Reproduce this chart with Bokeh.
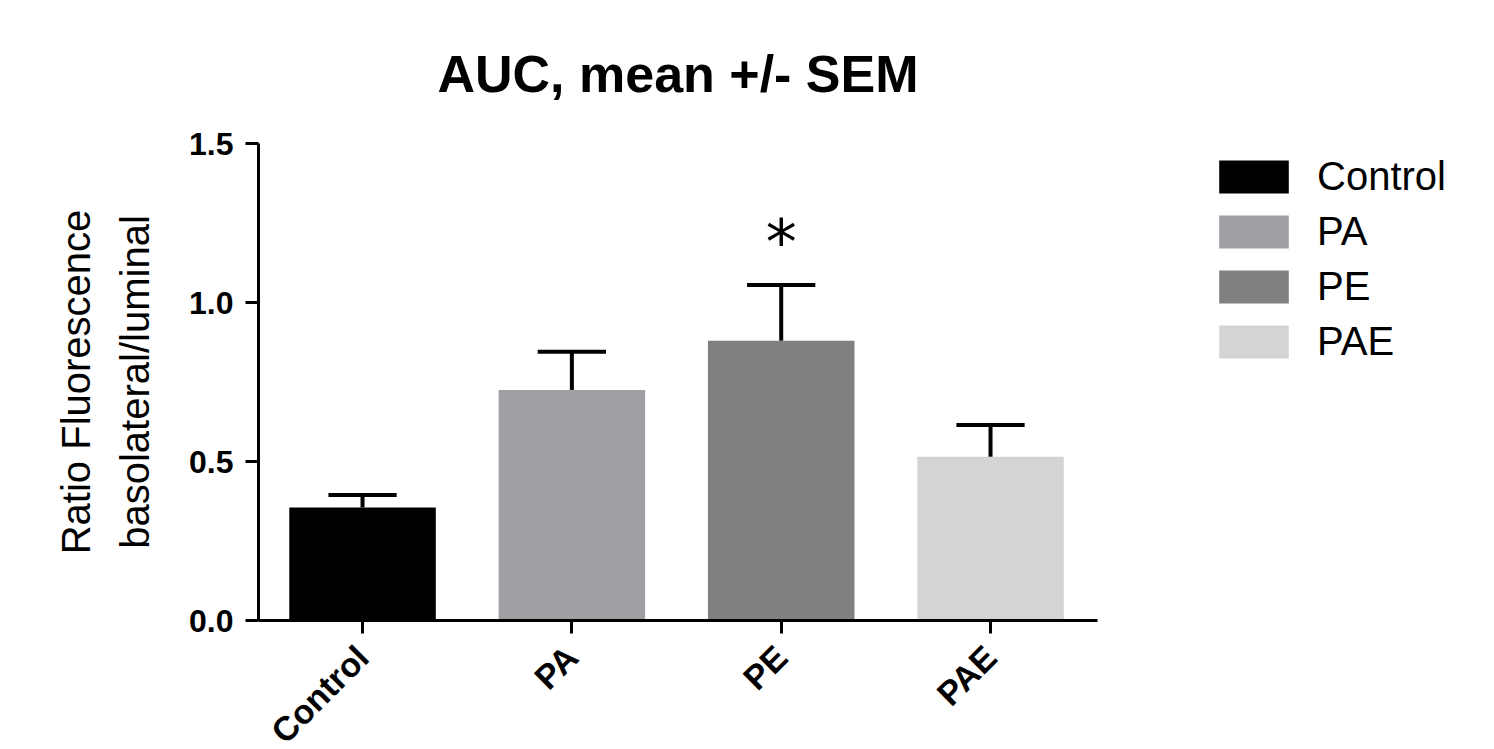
from bokeh.plotting import figure
from bokeh.models import Range1d, FixedTicker, Legend, LegendItem, ColumnDataSource
from bokeh.core.properties import value
from bokeh.embed import file_html
from bokeh.resources import INLINE
import math

categories = ["Control", "PA", "PE", "PAE"]
means = [0.355, 0.725, 0.88, 0.515]
sems = [0.04, 0.12, 0.175, 0.10]
colors = ["#000000", "#a09fa4", "#808080", "#d4d4d4"]
y_ticks = [0.0, 0.5, 1.0, 1.5]
y_tick_labels = ["0.0", "0.5", "1.0", "1.5"]
star_category = "PE"
star_y = 1.19

xs = list(range(len(categories)))
bar_w = 0.70
cap_half = 0.163

p = figure(width=1494, height=749, output_backend="svg", toolbar_location=None,
           x_range=Range1d(-0.497, 3.511), y_range=Range1d(0, 1.5),
           frame_width=839, frame_height=477,
           min_border_left=258, min_border_right=397, min_border_top=143, min_border_bottom=129,
           title="AUC, mean +/- SEM")
p.outline_line_color = None
p.xgrid.visible = False
p.ygrid.visible = False
p.background_fill_color = "white"
p.border_fill_color = "white"

p.title.align = "center"
p.title.text_font = "Liberation Sans"
p.title.text_font_size = "52px"
p.title.text_font_style = "bold"
p.title.text_color = "black"
p.title.text_line_height = 1.0
p.title.offset = 0
p.title.standoff = 81

src = ColumnDataSource(dict(x=xs, top=means,
                            err=[m + s for m, s in zip(means, sems)],
                            cl=[x - cap_half for x in xs], cr=[x + cap_half for x in xs]))

renderers = []
for i, c in enumerate(categories):
    r = p.vbar(x=[xs[i]], top=[means[i]], width=bar_w, bottom=0, fill_color=colors[i], line_color=None)
    renderers.append(r)

p.segment(x0="x", y0="top", x1="x", y1="err", source=src, line_color="black", line_width=4)
p.segment(x0="cl", y0="err", x1="cr", y1="err", source=src, line_color="black", line_width=4)

p.text(x=[categories.index(star_category)], y=[star_y], text=["*"], text_align="center",
       text_baseline="middle", text_font=value("DejaVu Sans"), text_font_size="62px", text_color="black")

# axes
for ax in (p.xaxis[0], p.yaxis[0]):
    ax.axis_line_width = 3
    ax.axis_line_color = "black"
    ax.major_tick_line_width = 3
    ax.major_tick_line_color = "black"
    ax.major_tick_out = 13
    ax.major_tick_in = 0
    ax.minor_tick_line_color = None
    ax.major_label_text_font = "Liberation Sans"
    ax.major_label_text_font_style = "bold"
    ax.major_label_text_color = "black"

p.yaxis.ticker = FixedTicker(ticks=y_ticks)
p.yaxis.major_label_overrides = {t: l for t, l in zip(y_ticks, y_tick_labels)}
p.yaxis.major_label_text_font_size = "32px"
p.yaxis.major_label_standoff = 12
p.yaxis.axis_label = "Ratio Fluorescence\nbasolateral/luminal"
p.yaxis.axis_label_text_font = "Liberation Sans"
p.yaxis.axis_label_text_font_style = "normal"
p.yaxis.axis_label_text_font_size = "40px"
p.yaxis.axis_label_text_color = "black"
p.yaxis.axis_label_text_line_height = 1.33
p.yaxis.axis_label_standoff = 29

p.xaxis.ticker = FixedTicker(ticks=xs)
p.xaxis.major_label_overrides = {x: c for x, c in zip(xs, categories)}
p.xaxis.major_label_text_font_size = "34px"
p.xaxis.major_label_orientation = math.pi / 4
p.xaxis.major_label_standoff = 18

legend = Legend(items=[LegendItem(label=c, renderers=[r]) for c, r in zip(categories, renderers)],
                location=(113, 256), orientation="vertical")
legend.glyph_width = 87
legend.glyph_height = 41
legend.label_text_font = "Liberation Sans"
legend.label_text_font_size = "40px"
legend.label_text_color = "black"
legend.label_standoff = 20
legend.spacing = 10
legend.padding = 0
legend.margin = 0
legend.border_line_color = None
legend.background_fill_alpha = 0
p.add_layout(legend, "right")

open("out.html", "w").write(file_html(p, INLINE))
